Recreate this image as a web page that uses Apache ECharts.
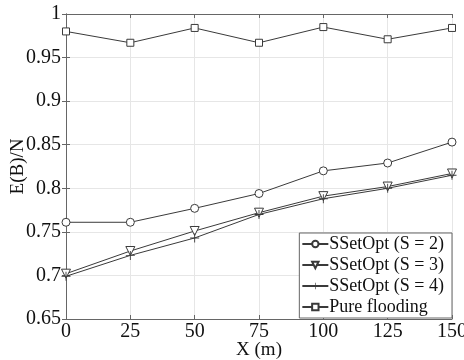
<!DOCTYPE html>
<html>
<head>
<meta charset="utf-8">
<script src="https://cdn.jsdelivr.net/npm/echarts@6/dist/echarts.min.js"></script>
<style>
  html, body { margin: 0; padding: 0; background: #fff; }
  #chart { width: 464px; height: 360px; }
</style>
</head>
<body>
<div id="chart"></div>
<script>
const xValues = [0, 25, 50, 75, 100, 125, 150];
const s2 = [0.761, 0.761, 0.777, 0.794, 0.820, 0.829, 0.853];
const s3 = [0.702, 0.728, 0.751, 0.772, 0.791, 0.802, 0.817];
const s4 = [0.699, 0.723, 0.743, 0.770, 0.788, 0.800, 0.815];
const flooding = [0.980, 0.967, 0.984, 0.967, 0.985, 0.971, 0.984];

const lineColor = "#3a3a3a";
const font = "Liberation Serif";
const pairs = (ys) => xValues.map((x, i) => [x, ys[i]]);

const chart = echarts.init(document.getElementById("chart"), null, { renderer: "canvas" });

// 加号标记用细实心十字
const plusPath = "path://M4.5,0h1v10h-1zM0,4.5h10v1h-10z";

const mkSeries = (name, ys, symbol, size, extra) => Object.assign({
  name,
  type: "line",
  data: pairs(ys),
  symbol,
  symbolSize: size,
  showAllSymbol: true,
  lineStyle: { color: lineColor, width: 1 },
  itemStyle: { color: "#fff", borderColor: lineColor, borderWidth: 1 },
}, extra || {});

const frameAxis = {
  axisLine: { show: true, lineStyle: { color: "#666", width: 1 } },
  axisTick: { show: true, inside: true, length: 4, lineStyle: { color: "#666" } },
};

chart.setOption({
  backgroundColor: "#fff",
  animation: false,
  textStyle: { fontFamily: font },
  grid: { left: 66, right: 12, top: 14, bottom: 41, containLabel: false, outerBoundsMode: "none" },
  legend: {
    orient: "vertical",
    right: 12,
    bottom: 42,
    backgroundColor: "#fff",
    borderColor: "#666",
    borderWidth: 1,
    borderRadius: 0,
    padding: [2, 8, 2, 2],
    itemGap: 3,
    itemWidth: 26,
    itemHeight: 8,
    textStyle: { fontFamily: font, fontSize: 18, color: "#111", padding: [0, 0, 0, -4] },
    data: ["SSetOpt (S = 2)", "SSetOpt (S = 3)", "SSetOpt (S = 4)", "Pure flooding"],
  },
  xAxis: [
    Object.assign({
      type: "value",
      min: 0,
      max: 150,
      interval: 25,
      name: "X (m)",
      nameLocation: "middle",
      nameGap: 22,
      nameMoveOverlap: false,
      nameTextStyle: { fontFamily: font, fontSize: 19, color: "#111" },
      axisLabel: { fontFamily: font, fontSize: 20, color: "#111", margin: 3 },
      splitLine: { show: true, lineStyle: { color: "#e6e6e6", width: 1 } },
    }, frameAxis),
    Object.assign({
      type: "value",
      position: "top",
      min: 0,
      max: 150,
      interval: 25,
      axisLabel: { show: false },
      splitLine: { show: false },
    }, frameAxis),
  ],
  yAxis: [
    Object.assign({
      type: "value",
      min: 0.65,
      max: 1,
      interval: 0.05,
      name: "E(B)/N",
      nameLocation: "middle",
      nameGap: 38,
      nameMoveOverlap: false,
      nameTextStyle: { fontFamily: font, fontSize: 19, color: "#111" },
      axisLabel: {
        fontFamily: font, fontSize: 20, color: "#111", margin: 5,
        formatter: (v) => String(+v.toFixed(2)),
      },
      splitLine: { show: true, lineStyle: { color: "#e6e6e6", width: 1 } },
    }, frameAxis),
    Object.assign({
      type: "value",
      position: "right",
      min: 0.65,
      max: 1,
      interval: 0.05,
      axisLabel: { show: false },
      splitLine: { show: false },
    }, frameAxis),
  ],
  series: [
    mkSeries("SSetOpt (S = 2)", s2, "circle", 8),
    mkSeries("SSetOpt (S = 3)", s3, "triangle", 9, { symbolRotate: 180 }),
    mkSeries("SSetOpt (S = 4)", s4, plusPath, 9, {
      itemStyle: { color: lineColor, borderWidth: 0 },
    }),
    mkSeries("Pure flooding", flooding, "rect", 7),
  ],
});
</script>
</body>
</html>
